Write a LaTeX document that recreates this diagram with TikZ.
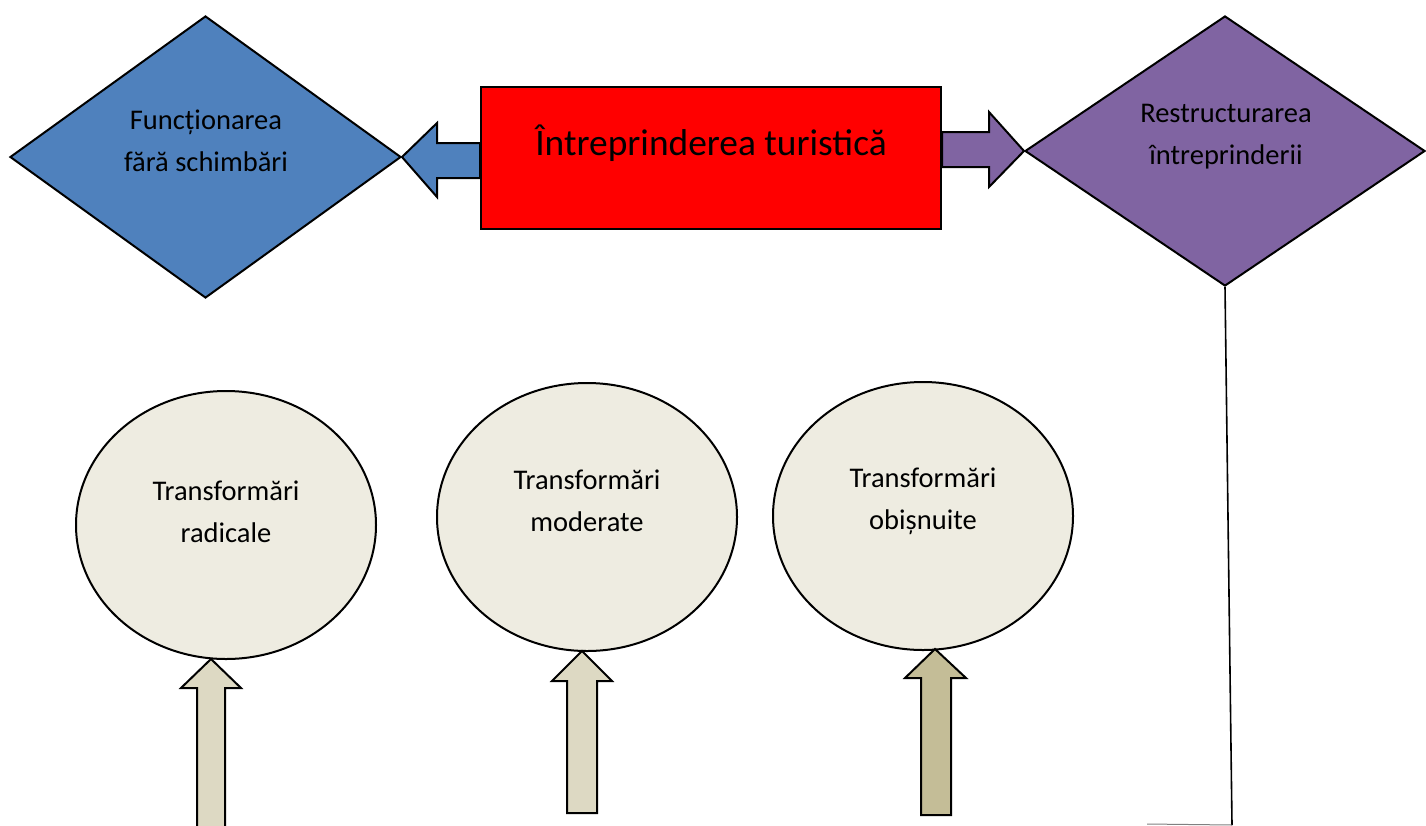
\documentclass[tikz,border=0pt]{standalone}
\usepackage{fontspec}
\setmainfont{Carlito}
\usetikzlibrary{shapes.geometric,calc}
\definecolor{decblue}{HTML}{4F81BD}
\definecolor{decpurple}{HTML}{8064A2}
\definecolor{ovalfill}{HTML}{EEECE1}
\definecolor{arrowlight}{HTML}{DDD9C3}
\definecolor{arrowdark}{HTML}{C4BD97}
\begin{document}
\begin{tikzpicture}[x=1pt,y=-1pt,line join=miter,
  outline/.style={draw=black,line width=2pt},
  decision/.style={outline,shape=diamond,inner sep=0pt},
  oval/.style={outline,shape=ellipse,fill=ovalfill,minimum width=300pt,minimum height=268pt,inner sep=0pt},
  small/.style={font=\fontsize{28.5}{42}\selectfont,align=center,inner sep=0pt},
  big/.style={font=\fontsize{37.4}{44}\selectfont,align=center,inner sep=0pt}]
\useasboundingbox (0,0) rectangle (1426,825);

% decisions and central block
\node[decision,fill=decblue,minimum width=391pt,minimum height=282pt] (keep) at (205.5,157) {};
\node[decision,fill=decpurple,minimum width=400pt,minimum height=270pt] (restr) at (1225,151) {};
\node[outline,fill=red,minimum width=460pt,minimum height=142pt,inner sep=0pt] (firm) at (711,158) {};

\node[small] (keeptxt) at (206,141) {Funcționarea\\fără schimbări};
\node[small] (restrtxt) at (1226,137) {Restructurarea\\întreprinderii};
\node[big] (firmtxt) at (711,143) {Întreprinderea turistică};

% block arrows out of the central block
\draw[outline,fill=decblue] (firm.west |- 0,143) -- (437,143) -- (437,123) -- (keep.east)
  -- (437,197) -- (437,178) -- (firm.west |- 0,178) -- cycle;
\draw[outline,fill=decpurple] (firm.east |- 0,132) -- (989,132) -- (989,112) -- (restr.west)
  -- (989,187) -- (989,167) -- (firm.east |- 0,167) -- cycle;

% line down from the restructuring decision
\coordinate (lineend) at (1232,825);
\draw[line width=1.6pt] (restr.south) -- (lineend);
\draw[gray,line width=1pt] (1147,824) -- (lineend);

% transformation ovals
\node[oval] (radical) at (226,525) {};
\node[oval] (moderate) at (587,517) {};
\node[oval] (usual) at (923,516) {};
\node[small] (radtxt) at (226,512) {Transformări\\radicale};
\node[small] (modtxt) at (587,501) {Transformări\\moderate};
\node[small] (usutxt) at (923,501) {Transformări\\obișnuite};

% upward block arrows
\draw[outline,fill=arrowlight] (211,659) -- (241,688) -- (225,688) -- (225,828) -- (197,828)
  -- (197,688) -- (181,688) -- cycle;
\draw[outline,fill=arrowlight] (582,651) -- (612,681) -- (597,681) -- (597,813) -- (567,813)
  -- (567,681) -- (552,681) -- cycle;
\draw[outline,fill=arrowdark] (935,649) -- (966,678) -- (951,678) -- (951,815) -- (921,815)
  -- (921,678) -- (905,678) -- cycle;
\end{tikzpicture}
\end{document}
